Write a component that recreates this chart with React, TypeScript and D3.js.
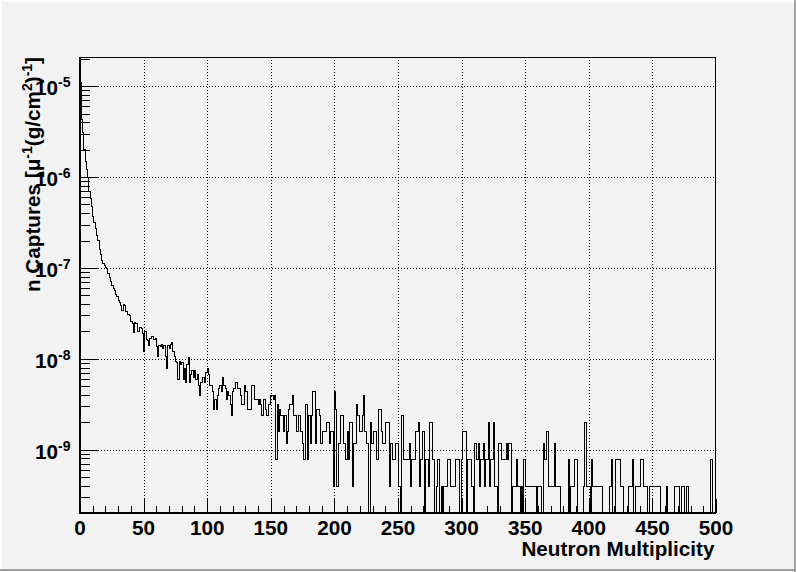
import React from 'react';
import * as d3 from 'd3';

// Histogram contents (entries per unit multiplicity bin, bins 0..499)
const counts: number[] = [
  28060, 10970, 7908, 5102, 3827, 3061, 2551, 1786, 1480, 1224, 944, 816, 689,
  587, 510, 408, 357, 306, 286, 270,
  260, 250, 219, 202, 179, 163, 153, 143, 130, 122,
  112, 105, 99, 87, 102, 99, 84, 79, 78, 77,
  66, 63, 50, 64, 63, 51, 51, 56, 55, 48,
  31, 51, 41, 40, 36, 43, 45, 45, 41, 43,
  35, 27, 36, 35, 37, 33, 36, 27, 20, 36,
  33, 37, 38, 31, 27, 24, 23, 15, 24, 22,
  23, 15, 20, 14, 22, 26, 14, 17, 19, 16,
  19, 15, 17, 13, 10, 14, 16, 16, 14, 18,
  20, 17, 13, 13, 11, 7, 9, 7, 10, 12,
  13, 11, 16, 13, 12, 9, 11, 10, 8, 6,
  11, 12, 14, 14, 12, 12, 10, 8, 8, 13,
  11, 11, 7, 7, 7, 13, 13, 9, 9, 9,
  8, 9, 8, 6, 9, 9, 7, 6, 8, 8,
  10, 10, 9, 10, 2, 8, 4, 7, 6, 6,
  4, 6, 3, 4, 7, 8, 8, 10, 6, 6,
  4, 4, 6, 4, 4, 3, 2, 8, 8, 2,
  6, 3, 6, 11, 11, 3, 7, 7, 6, 3,
  3, 4, 4, 4, 5, 5, 3, 4, 4, 1,
  11, 7, 1, 3, 3, 6, 6, 3, 3, 2,
  4, 2, 5, 5, 1, 3, 3, 8, 6, 6,
  4, 4, 6, 10, 4, 3, 3, 0, 5, 3,
  3, 4, 4, 2, 2, 7, 7, 4, 3, 3,
  5, 5, 5, 1, 3, 3, 2, 2, 3, 3,
  1, 1, 0, 6, 2, 2, 2, 2, 2, 3,
  1, 2, 2, 2, 4, 4, 5, 1, 2, 4,
  4, 0, 2, 2, 1, 5, 5, 2, 2, 0,
  1, 2, 2, 0, 1, 0, 1, 1, 1, 2,
  2, 1, 1, 1, 1, 2, 2, 2, 0, 0,
  2, 4, 4, 4, 0, 2, 2, 2, 1, 0,
  3, 3, 2, 3, 1, 2, 2, 3, 1, 2,
  2, 5, 1, 2, 2, 5, 1, 1, 0, 3,
  3, 2, 2, 2, 2, 3, 2, 3, 3, 0,
  1, 1, 1, 2, 1, 1, 0, 1, 0, 2,
  1, 1, 1, 1, 1, 1, 1, 1, 1, 0,
  1, 1, 1, 0, 3, 2, 2, 4, 1, 1,
  1, 1, 1, 3, 1, 1, 1, 1, 0, 0,
  0, 0, 0, 0, 2, 0, 1, 1, 1, 2,
  2, 0, 0, 0, 0, 0, 1, 5, 1, 1,
  1, 0, 2, 1, 1, 1, 1, 1, 1, 1,
  1, 0, 0, 0, 0, 0, 1, 1, 2, 0,
  0, 2, 2, 2, 2, 1, 1, 0, 0, 0,
  0, 1, 1, 1, 2, 0, 0, 1, 1, 1,
  1, 2, 2, 1, 1, 1, 0, 0, 1, 1,
  1, 1, 1, 1, 1, 1, 0, 0, 0, 0,
  0, 1, 0, 0, 0, 0, 0, 1, 1, 1,
  1, 0, 0, 1, 1, 0, 0, 1, 0, 0,
  0, 0, 0, 0, 0, 0, 0, 0, 0, 0,
  0, 0, 0, 0, 0, 0, 2, 0, 0, 0,
];
// normalisation: captures per mu per g/cm2 for one entry
const capturesPerEntry = 3.92e-10;

const xRange = [0, 500];
const xMajorTicks = [0, 50, 100, 150, 200, 250, 300, 350, 400, 450, 500];
const xMinorStep = 10;
const yRange = [2.0e-10, 2.1e-5];
const yDecadeExponents = [-9, -8, -7, -6, -5];
const xTitle = 'Neutron Multiplicity';

const W = 796;
const H = 572;
const PL = 80, PR = 716, PT = 57, PB = 513;
const FONT = "'Liberation Sans', Arial, Helvetica, sans-serif";
const FS = 20.7;
const SUP = 14;

export default function App() {
  const x = d3.scaleLinear().domain(xRange).range([PL, PR]);
  const y = d3.scaleLog().domain(yRange).range([PB, PT]);
  const yClamp = (v: number) => (v <= yRange[0] ? PB : Math.max(PT, y(v)));

  const values = counts.map((c) => c * capturesPerEntry);
  const pts: [number, number][] = values.map((v, i) => [x(i), yClamp(v)]);
  pts.push([x(values.length), yClamp(values[values.length - 1])]);
  const line = d3.line().curve(d3.curveStepAfter);
  const histPath = line(pts) || '';

  const minorY: number[] = [];
  for (let e = -10; e <= -5; e++) {
    for (let k = 2; k <= 9; k++) {
      const v = k * Math.pow(10, e);
      if (v >= yRange[0] && v <= yRange[1]) minorY.push(v);
    }
  }
  const minorX: number[] = [];
  for (let v = xRange[0]; v <= xRange[1]; v += xMinorStep) {
    if (v % 50 !== 0) minorX.push(v);
  }

  const r = (v: number) => Math.round(v) + 0.5;

  return (
    <svg
      width={W}
      height={H}
      style={{ position: 'absolute', left: 0, top: 0, display: 'block' }}
      fontFamily={FONT}
    >
      <defs>
        <clipPath id="plotClip">
          <rect x={PL} y={PT} width={PR - PL} height={PB - PT} />
        </clipPath>
      </defs>
      <rect x={0} y={0} width={W} height={H} fill="#f2f2f2" />
      {/* canvas bevel */}
      <rect x={0} y={0} width={W} height={2} fill="#ffffff" />
      <rect x={0} y={0} width={2} height={H} fill="#ffffff" />
      <rect x={W - 2} y={0} width={2} height={H} fill="#a0a0a0" />
      <rect x={0} y={H - 3} width={W} height={2} fill="#a0a0a0" />

      {/* grid */}
      <g stroke="#000" strokeWidth={1} strokeDasharray="1 2" shapeRendering="crispEdges">
        {xMajorTicks
          .filter((v) => v > xRange[0] && v < xRange[1])
          .map((v) => (
            <line key={'gx' + v} x1={r(x(v))} x2={r(x(v))} y1={PT} y2={PB} />
          ))}
        {yDecadeExponents.map((e) => (
          <line key={'gy' + e} x1={PL} x2={PR} y1={r(y(Math.pow(10, e)))} y2={r(y(Math.pow(10, e)))} />
        ))}
      </g>

      {/* histogram */}
      <g clipPath="url(#plotClip)">
        <path d={histPath} fill="none" stroke="#000" strokeWidth={1} shapeRendering="crispEdges" />
      </g>

      {/* frame */}
      <rect x={PL + 0.5} y={PT + 0.5} width={PR - PL - 1} height={PB - PT - 1} fill="none" stroke="#000" strokeWidth={1} shapeRendering="crispEdges" />
      <line x1={PL} x2={PL} y1={PT} y2={PB + 1} stroke="#000" strokeWidth={2} shapeRendering="crispEdges" />
      <line x1={PL - 1} x2={PR} y1={PB} y2={PB} stroke="#000" strokeWidth={2} shapeRendering="crispEdges" />

      {/* ticks */}
      <g stroke="#000" strokeWidth={1} shapeRendering="crispEdges">
        {yDecadeExponents.map((e) => (
          <line key={'ty' + e} x1={PL} x2={PL + 19} y1={r(y(Math.pow(10, e)))} y2={r(y(Math.pow(10, e)))} />
        ))}
        {minorY.map((v, i) => (
          <line key={'mty' + i} x1={PL} x2={PL + 10} y1={r(y(v))} y2={r(y(v))} />
        ))}
        {xMajorTicks.map((v) => (
          <line key={'tx' + v} x1={r(x(v))} x2={r(x(v))} y1={PB} y2={PB - 14} />
        ))}
        {minorX.map((v) => (
          <line key={'mtx' + v} x1={r(x(v))} x2={r(x(v))} y1={PB} y2={PB - 7} />
        ))}
      </g>

      {/* x tick labels */}
      <g fontSize={FS} fontWeight="bold" textAnchor="middle" fill="#000">
        {xMajorTicks.map((v) => (
          <text key={'lx' + v} x={x(v)} y={534.5}>
            {v}
          </text>
        ))}
      </g>

      {/* y tick labels */}
      <g fontWeight="bold" textAnchor="end" fill="#000">
        {yDecadeExponents.map((e) => (
          <text key={'ly' + e} x={70.5} y={y(Math.pow(10, e)) + 9} fontSize={FS}>
            <tspan>10</tspan>
            <tspan fontSize={SUP} dy={-8}>{String(e)}</tspan>
          </text>
        ))}
      </g>

      {/* axis titles */}
      <text x={714.5} y={556} fontSize={FS} fontWeight="bold" textAnchor="end" fill="#000">
        {xTitle}
      </text>
      <text
        transform={`translate(40,${PT}) rotate(-90)`}
        fontSize={FS}
        fontWeight="bold"
        textAnchor="end"
        fill="#000"
      >
        <tspan>n Captures [μ</tspan>
        <tspan fontSize={SUP} dy={-8}>-1</tspan>
        <tspan dy={8}>(g/cm</tspan>
        <tspan fontSize={SUP} dy={-8}>2</tspan>
        <tspan dy={8}>)</tspan>
        <tspan fontSize={SUP} dy={-8}>-1</tspan>
        <tspan dy={8}>]</tspan>
      </text>
    </svg>
  );
}
